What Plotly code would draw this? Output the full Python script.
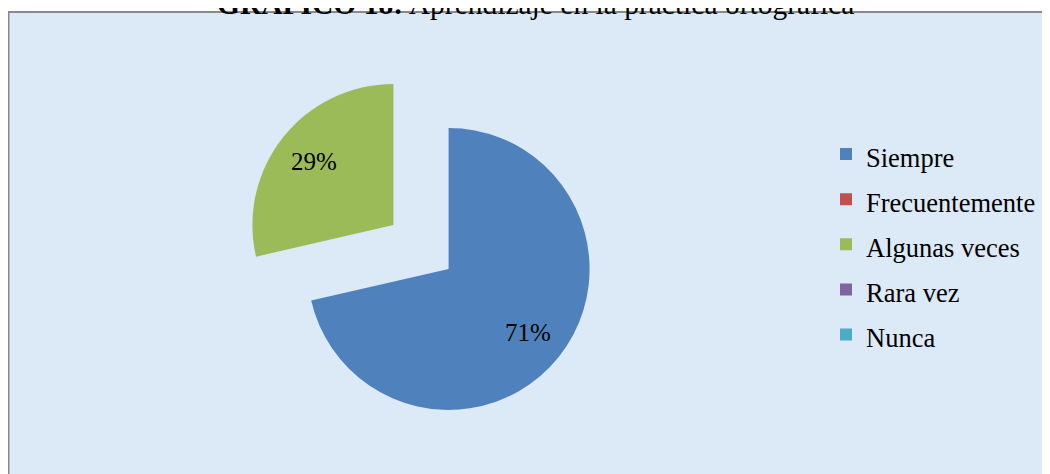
import math
import plotly.graph_objects as go

categories = ["Siempre", "Frecuentemente", "Algunas veces", "Rara vez", "Nunca"]
values = [71.4, 0, 28.6, 0, 0]
colors = ["#4F81BD", "#C0504D", "#9BBB59", "#8064A2", "#4BACC6"]
pulls = [0.25, 0, 0.25, 0, 0]
title_bold = "GRÁFICO 18:"
title_rest = "Aprendizaje en la práctica ortográfica"

W, H = 1050, 474
SERIF = "Liberation Serif, Times New Roman, serif"
DOM_X = [0.22548, 0.56119]
DOM_Y = [0.12394, 0.86762]

legend_labels = ['<span style="font-size:26.5px">%s</span>' % c for c in categories]

fig = go.Figure()
fig.add_trace(go.Pie(
    labels=legend_labels,
    values=values,
    sort=False,
    direction="clockwise",
    rotation=0,
    pull=pulls,
    marker=dict(colors=colors, line=dict(width=0)),
    textinfo="none",
    hoverinfo="skip",
    domain=dict(x=DOM_X, y=DOM_Y),
))

# percent labels placed along each slice's mid-angle (same geometry plotly uses)
box_w = W * (DOM_X[1] - DOM_X[0])
box_h = H * (DOM_Y[1] - DOM_Y[0])
r = min(box_w, box_h) / (2 + 2 * max(pulls))
cx = W * (DOM_X[0] + DOM_X[1]) / 2
cy = H * (1 - DOM_Y[0]) - box_h / 2
total = sum(values)
label_annots = []
cum = 0.0
for v, p in zip(values, pulls):
    if v > 0:
        mid = 2 * math.pi * (cum + v / 2) / total
        dx, dy = math.sin(mid), -math.cos(mid)
        px = cx + (p + 0.72) * r * dx
        py = cy + (p + 0.72) * r * dy
        label_annots.append(dict(
            text="%d%%" % round(100 * v / total),
            xref="paper", yref="paper", x=px / W, y=1 - py / H,
            xanchor="center", yanchor="middle", showarrow=False,
            font=dict(family=SERIF, size=25, color="#000000"),
        ))
    cum += v

fig.update_layout(
    width=W, height=H,
    margin=dict(l=0, r=0, t=0, b=0),
    paper_bgcolor="#ffffff",
    plot_bgcolor="rgba(0,0,0,0)",
    showlegend=True,
    legend=dict(
        x=818 / W, xanchor="left",
        y=1 - 118.5 / H, yanchor="top",
        font=dict(family=SERIF, size=32.4, color="#000000"),
        bgcolor="rgba(0,0,0,0)",
        traceorder="normal",
    ),
    shapes=[dict(
        type="rect", xref="paper", yref="paper",
        x0=0.5 / W, x1=1.05, y0=-0.05, y1=1 - 4 / H,
        fillcolor="#dce9f7", line=dict(color="#8a8a8a", width=2),
        layer="below",
    )],
    annotations=[dict(
        text="<b>%s</b> %s" % (title_bold, title_rest),
        xref="paper", yref="paper",
        x=527 / W, y=1 + 4 / H, xanchor="center", yanchor="middle",
        showarrow=False,
        font=dict(family=SERIF, size=29.5, color="#000000"),
    )] + label_annots,
)

fig.write_html("out.html")
